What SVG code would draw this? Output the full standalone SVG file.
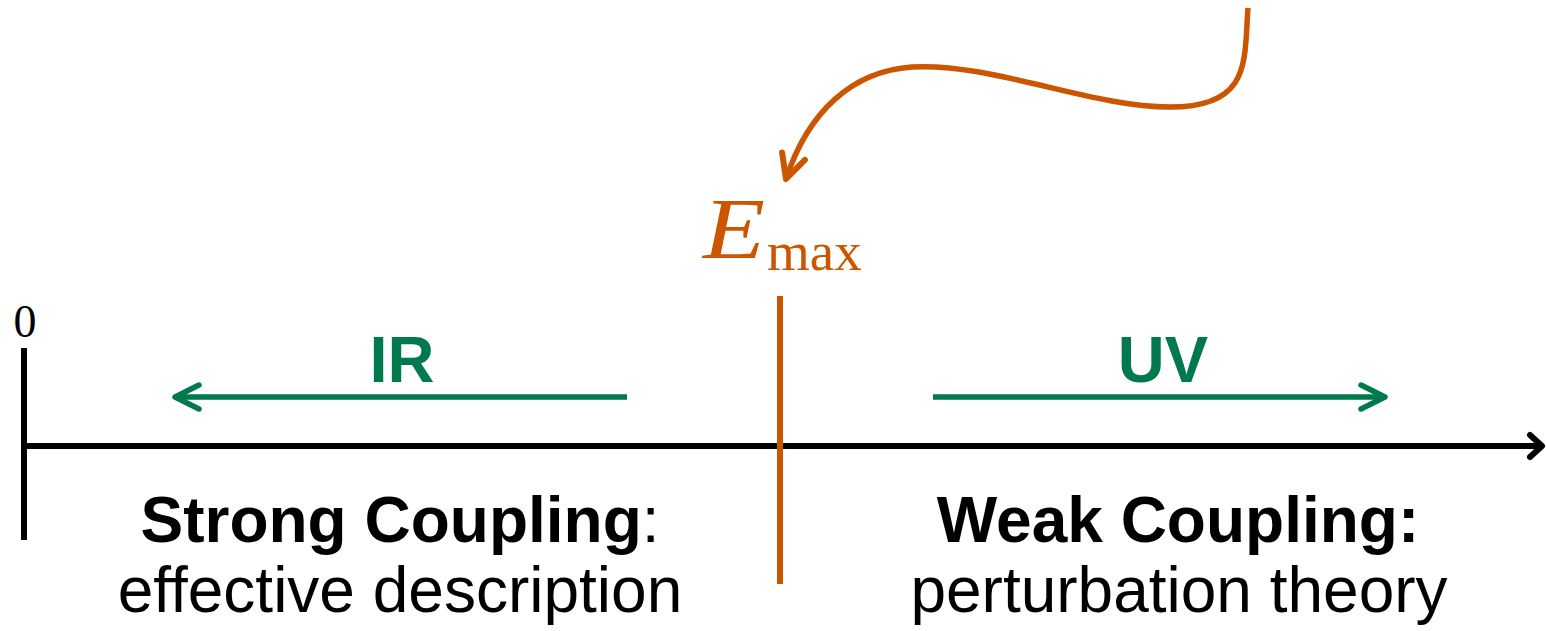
<svg xmlns="http://www.w3.org/2000/svg" width="1546" height="631" viewBox="0 0 1546 631">
<style>
.sans{font-family:"Liberation Sans",Arial,sans-serif;font-size:64px;fill:#000}
.bold{font-weight:bold}
.green{fill:#00794d;font-family:"Liberation Sans",Arial,sans-serif;font-weight:bold;font-size:65px}
.serif{font-family:"Liberation Serif","Times New Roman",serif}
.ln{fill:none;stroke-width:5.5}
</style>
<defs>
<marker id="ahG" markerUnits="userSpaceOnUse" orient="auto" overflow="visible" refX="0" refY="0" markerWidth="30" markerHeight="30">
<path d="M-24,-12 L0,0 L-24,12" fill="none" stroke="#00794d" stroke-width="5.5" stroke-linecap="round" stroke-linejoin="round"/>
</marker>
<marker id="ahK" markerUnits="userSpaceOnUse" orient="auto" overflow="visible" refX="0" refY="0" markerWidth="30" markerHeight="30">
<path d="M-12,-11 L0,0 L-12,11" fill="none" stroke="#000" stroke-width="6" stroke-linecap="round" stroke-linejoin="round"/>
</marker>
<marker id="ahO" markerUnits="userSpaceOnUse" orient="auto" overflow="visible" refX="0" refY="0" markerWidth="30" markerHeight="30">
<path d="M-24,-12 L0,0 L-24,12" fill="none" stroke="#cc5500" stroke-width="6" stroke-linecap="round" stroke-linejoin="round"/>
</marker>
</defs>
<rect width="1546" height="631" fill="#fff"/>

<g id="axis">
<line x1="24" y1="348" x2="24" y2="540" stroke="#000" stroke-width="6"/>
<line x1="21" y1="446" x2="1542" y2="446" stroke="#000" stroke-width="6" marker-end="url(#ahK)"/>
<text x="25" y="337" class="serif" font-size="46" text-anchor="middle">0</text>
</g>

<g id="emax">
<line x1="780" y1="296" x2="780" y2="584" stroke="#cc5500" stroke-width="6"/>
<text class="serif" fill="#cc5500" font-style="italic" font-size="86" transform="translate(703,258) scale(1.18,1)">E</text>
<text class="serif" fill="#cc5500" x="767" y="270" font-size="55">max</text>
</g>

<g id="connectors">
<path class="ln" stroke="#00794d" d="M627,397 L175,397" marker-end="url(#ahG)"/>
<path class="ln" stroke="#00794d" d="M933,397 L1385,397" marker-end="url(#ahG)"/>
<path class="ln" stroke="#cc5500" stroke-width="6" d="M1248,8 C1244,60 1252,107 1170,107 C1090,107 990,62 912,67 C852,71 808,112 786,179" marker-end="url(#ahO)"/>
</g>

<g id="ir">
<text x="402" y="382" class="green" text-anchor="middle">IR</text>
</g>
<g id="uv">
<text x="1163" y="382" class="green" text-anchor="middle">UV</text>
</g>

<g id="strong">
<text x="400" y="542" class="sans" text-anchor="middle"><tspan class="bold">Strong Coupling</tspan>:</text>
<text x="400" y="612" class="sans" text-anchor="middle">effective description</text>
</g>
<g id="weak">
<text x="1178" y="542" class="sans bold" text-anchor="middle">Weak Coupling:</text>
<text x="1179" y="612" class="sans" text-anchor="middle">perturbation theory</text>
</g>
</svg>
